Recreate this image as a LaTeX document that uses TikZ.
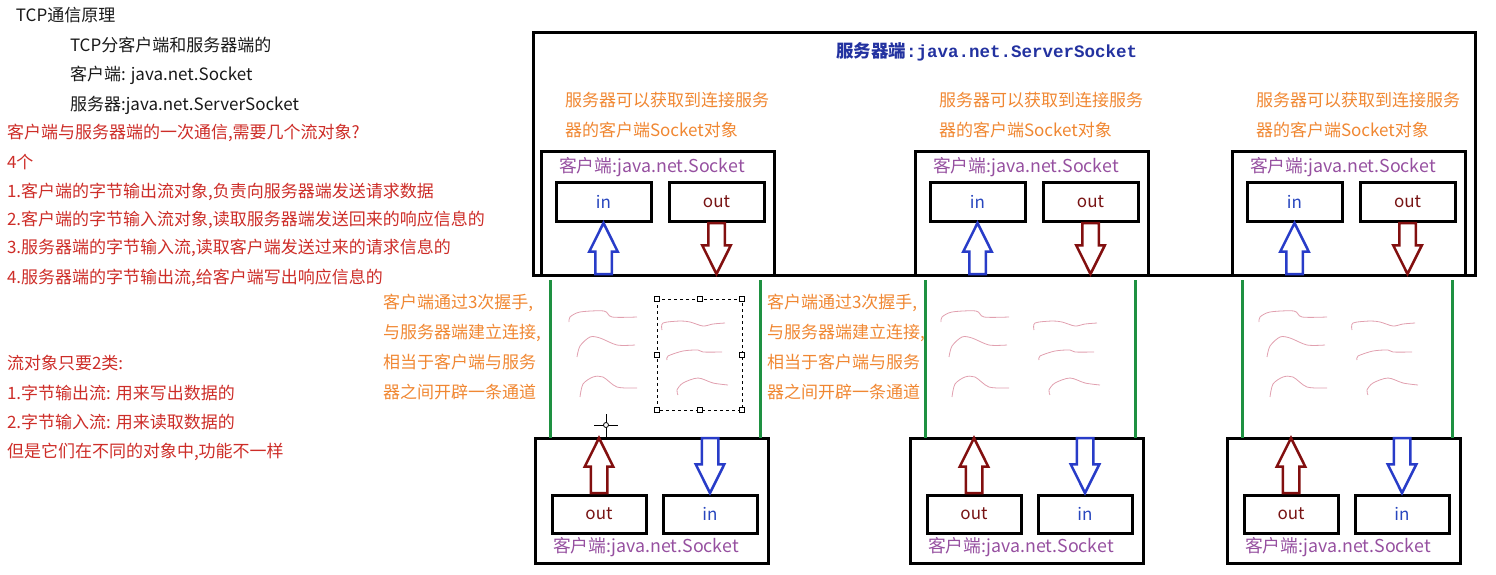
\documentclass[tikz,border=0pt]{standalone}
\usepackage{fontspec}
\setmainfont{Noto Sans CJK SC}
\newfontfamily\monof{Liberation Mono}
\usetikzlibrary{shapes.arrows}
\definecolor{txtred}{RGB}{205,45,40}
\definecolor{txtorange}{RGB}{240,135,50}
\definecolor{txtpurple}{RGB}{150,80,160}
\definecolor{inblue}{RGB}{40,70,190}
\definecolor{outred}{RGB}{120,20,20}
\definecolor{titleblue}{RGB}{35,50,160}
\definecolor{arrblue}{RGB}{40,60,200}
\definecolor{arrred}{RGB}{130,15,15}
\definecolor{chgreen}{RGB}{30,145,65}
\definecolor{scribpink}{RGB}{225,160,175}
\begin{document}
\begin{tikzpicture}[x=1pt,y=-1pt,
  every node/.style={inner sep=0pt, outer sep=0pt},
  lt/.style={anchor=west, font=\fontsize{17}{20}\selectfont},
  blk/.style={lt, text=black!90},
  rd/.style={lt, text=txtred},
  org/.style={lt, text=txtorange},
  sockl/.style={anchor=west, font=\fontsize{17.8}{20}\selectfont, text=txtpurple},
  sockbox/.style={draw, line width=3pt, minimum width=233pt, anchor=north west},
  io/.style={draw, line width=3pt, minimum width=95pt, minimum height=39pt, anchor=north west, font=\fontsize{17}{20}\selectfont},
  inl/.style={io, text=inblue},
  outl/.style={io, text=outred},
  barr/.style={single arrow, draw, line width=2.5pt, inner sep=7pt, single arrow head extend=6pt, single arrow tip angle=53, fill=white},
  uparr/.style={barr, rotate=90},
  dnarr/.style={barr, rotate=-90},
  chan/.style={draw=chgreen, line width=3pt},
  scrib/.style={draw=scribpink, line width=0.8pt},
]
\useasboundingbox (0,0) rectangle (1496,574);

% ---------- left text ----------
\node[blk] (l1) at (16,15) {TCP通信原理};
\node[blk] (l2) at (70,45) {TCP分客户端和服务器端的};
\node[blk] (l3) at (70,75) {客户端: java.net.Socket};
\node[blk] (l4) at (70,105) {服务器:java.net.ServerSocket};
\node[rd] (r1) at (7,133) {客户端与服务器端的一次通信,需要几个流对象?};
\node[rd] (r2) at (7,162) {4个};
\node[rd] (r3) at (7,192) {1.客户端的字节输出流对象,负责向服务器端发送请求数据};
\node[rd] (r4) at (7,220) {2.客户端的字节输入流对象,读取服务器端发送回来的响应信息的};
\node[rd] (r5) at (7,248) {3.服务器端的字节输入流,读取客户端发送过来的请求信息的};
\node[rd] (r6) at (7,278) {4.服务器端的字节输出流,给客户端写出响应信息的};
\node[rd] (r7) at (7,363) {流对象只要2类:};
\node[rd] (r8) at (7,393) {1.字节输出流: 用来写出数据的};
\node[rd] (r9) at (7,422) {2.字节输入流: 用来读取数据的};
\node[rd] (r10) at (7,452) {但是它们在不同的对象中,功能不一样};

% ---------- server box ----------
\node[draw, line width=3pt, minimum width=942pt, minimum height=243pt, anchor=north west] (srv) at (533,32) {};
\node[anchor=west, text=titleblue, font=\fontsize{17.5}{20}\selectfont] (title) at (836,52) {{\bfseries 服务器端}{\monof\bfseries :java.net.ServerSocket}};

\foreach \i/\L in {1/541, 2/915, 3/1232} {
  \node[org] (oa\i) at (\L+24,100) {服务器可以获取到连接服务};
  \node[org] (ob\i) at (\L+24,130) {器的客户端Socket对象};
  \node[sockbox, minimum height=124pt] (t\i) at (\L,151) {};
  \node[sockl] (tl\i) at (\L+18,167) {客户端:java.net.Socket};
  \node[inl] (ti\i) at (\L+15,182) {in};
  \node[outl] (to\i) at (\L+128,182) {out};
  \node[uparr, draw=arrblue, minimum height=51pt, anchor=tip] (tua\i) at ([yshift=-2pt]ti\i.south) {};
  \node[dnarr, draw=arrred, minimum height=51pt, anchor=tail] (tda\i) at ([yshift=-2pt]to\i.south) {};
}

% ---------- bottom client boxes ----------
\foreach \i/\L in {1/535, 2/910, 3/1227} {
  \node[sockbox, minimum height=125pt] (b\i) at (\L,438) {};
  \node[outl, minimum width=94pt, minimum height=38pt] (bo\i) at (\L+17,495) {out};
  \node[inl, minimum width=94pt, minimum height=38pt] (bi\i) at (\L+128,495) {in};
  \node[sockl] (bl\i) at (\L+18,547) {客户端:java.net.Socket};
  \node[uparr, draw=arrred, minimum height=55pt, anchor=tail] (bua\i) at ([yshift=2pt]bo\i.north) {};
  \node[dnarr, draw=arrblue, minimum height=55pt, anchor=tip] (bda\i) at ([yshift=2pt]bi\i.north) {};
  \coordinate (ga\i) at (\L+15,280);
  \coordinate (gb\i) at (\L+225,280);
  \draw[chan] (ga\i) -- (ga\i |- b\i.north);
  \draw[chan] (gb\i) -- (gb\i |- b\i.north);
}

% ---------- middle text ----------
\foreach \X/\n in {383/m, 767/n} {
  \node[org] (\n1) at (\X,303) {客户端通过3次握手,};
  \node[org] (\n2) at (\X,333) {与服务器端建立连接,};
  \node[org] (\n3) at (\X,362) {相当于客户端与服务};
  \node[org] (\n4) at (\X,392) {器之间开辟一条通道};
}

% ---------- scribbles ----------
\foreach \s in {0, 372, 690} {
\begin{scope}[xshift=\s]
  \draw[scrib] plot[smooth] coordinates {(569,322) (570,317) (580,312) (604,311) (612,317) (637,317)};
  \draw[scrib] plot[smooth] coordinates {(577,357) (580,346) (590,337) (600,338) (617,345) (635,345)};
  \draw[scrib] plot[smooth] coordinates {(580,397) (583,384) (593,377) (603,377) (617,387) (637,388)};
  \draw[scrib] plot[smooth] coordinates {(662,330) (663,323) (680,321) (690,322) (703,326) (713,324) (725,323)};
  \draw[scrib] plot[smooth] coordinates {(667,360) (668,356) (683,351) (698,350) (703,352) (722,352)};
  \draw[scrib] plot[smooth] coordinates {(678,395) (677,390) (683,383) (698,378) (713,383) (728,385)};
\end{scope}
}

% ---------- selection box and cursor ----------
\draw[dashed, line width=0.8pt] (657,299) rectangle (742,410);
\foreach \p in {(657,299),(699.5,299),(742,299),(657,354.5),(742,354.5),(657,410),(699.5,410),(742,410)}
  \draw[fill=white, line width=0.6pt] \p ++(-2.5,-2.5) rectangle ++(5,5);
\draw[line width=0.8pt] (594,425) -- (618,425) (606,414) -- (606,437);
\draw[fill=white, line width=0.8pt] (606,425) circle (2.5pt);
\end{tikzpicture}
\end{document}
